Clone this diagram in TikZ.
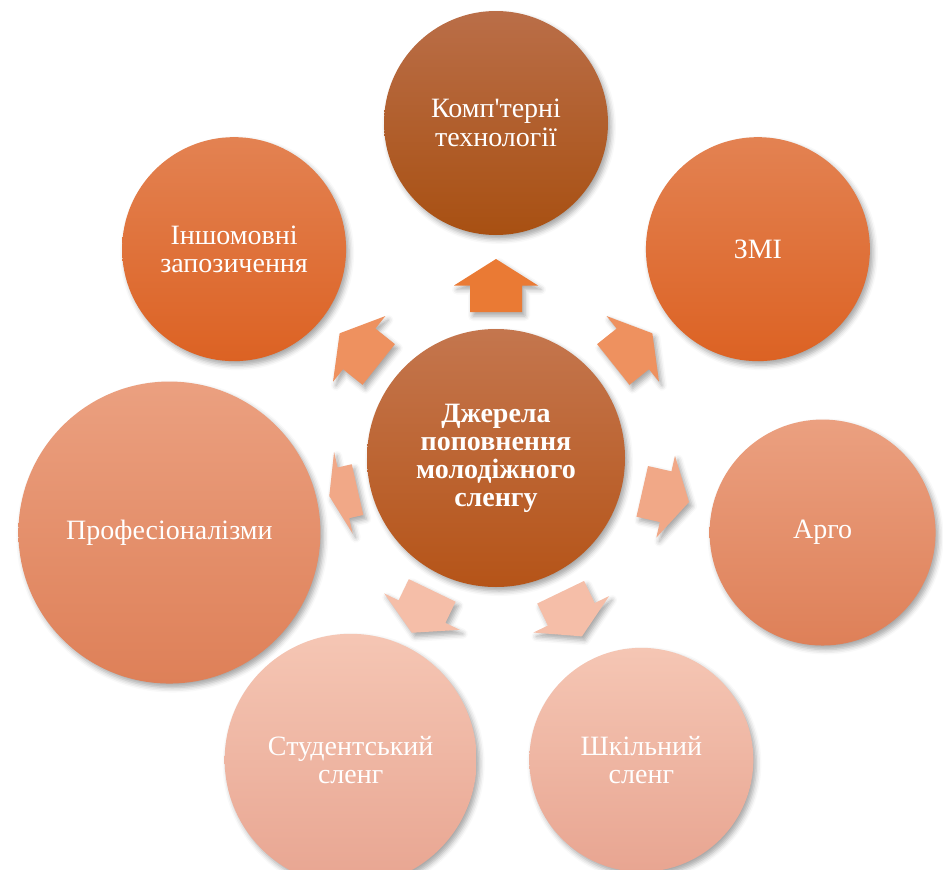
\documentclass[tikz,border=0pt]{standalone}
\usepackage{fontspec}
\setmainfont{Liberation Serif}
\usetikzlibrary{calc}
\usetikzlibrary{shadows.blur}

\definecolor{srcA}{RGB}{196,118,78}
\definecolor{srcB}{RGB}{181,84,24}
\definecolor{compA}{RGB}{186,110,72}
\definecolor{compB}{RGB}{168,80,18}
\definecolor{midA}{RGB}{227,130,82}
\definecolor{midB}{RGB}{220,98,35}
\definecolor{sideA}{RGB}{235,160,128}
\definecolor{sideB}{RGB}{222,128,88}
\definecolor{lowA}{RGB}{245,198,180}
\definecolor{lowB}{RGB}{232,165,145}
\definecolor{arrTop}{RGB}{234,122,52}
\definecolor{arrMid}{RGB}{238,145,95}
\definecolor{arrSide}{RGB}{241,168,135}
\definecolor{arrLow}{RGB}{245,190,168}

\tikzset{
  softshadow/.style={blur shadow={shadow xshift=3pt, shadow yshift=-4pt,
      shadow blur radius=5pt, shadow opacity=35}},
  bubble/.style={circle, inner sep=0pt, minimum size=#1, text=white,
      align=center, softshadow, font=\fontsize{28}{28.5}\selectfont},
}

\begin{document}
\begin{tikzpicture}[x=1pt,y=1pt]
  \clip (0,0) rectangle (943,-870);

  % centre
  \node[bubble=258pt, top color=srcA, bottom color=srcB,
        font=\bfseries\fontsize{28}{28}\selectfont] (src) at (496,-458)
        {Джерела\\поповнення\\молодіжного\\сленгу};

  % sources round the centre
  \foreach \k/\name/\size/\ca/\cb/\txt in {
      0/comp/224/compA/compB/{Комп\textquotesingle терні\\технології},
      1/zmi/224/midA/midB/{ЗМІ},
      2/argo/226/sideA/sideB/{Арго},
      3/school/224/lowA/lowB/{Шкільний\\сленг},
      4/student/252/lowA/lowB/{Студентський\\сленг},
      5/prof/302/sideA/sideB/{Професіоналізми},
      6/foreign/224/midA/midB/{Іншомовні\\запозичення}}
    \node[bubble=\size pt, top color=\ca, bottom color=\cb] (\name)
      at ($(src)+({90-\k*360/7}:335)$) {\txt};

  % block arrows
  \foreach \k/\rin/\rlen/\col in {0/146/53/arrTop, 1/150/50/arrMid,
      2/150/48/arrSide, 3/149/49/arrLow, 4/147/47/arrLow,
      5/142/29/arrSide, 6/150/50/arrMid} {
    \pgfmathsetmacro{\ang}{90-\k*360/7}
    \pgfmathsetmacro{\angp}{\ang+90}
    \pgfmathsetmacro{\hb}{\rin+\rlen/2}
    \pgfmathsetmacro{\tp}{\rin+\rlen}
    \fill[\col, softshadow]
      ($(src)+(\ang:\rin)+(\angp:26)$) -- ($(src)+(\ang:\hb)+(\angp:26)$)
      -- ($(src)+(\ang:\hb)+(\angp:42)$) -- ($(src)+(\ang:\tp)$)
      -- ($(src)+(\ang:\hb)+(\angp:-42)$) -- ($(src)+(\ang:\hb)+(\angp:-26)$)
      -- ($(src)+(\ang:\rin)+(\angp:-26)$) -- cycle;
  }
\end{tikzpicture}
\end{document}
